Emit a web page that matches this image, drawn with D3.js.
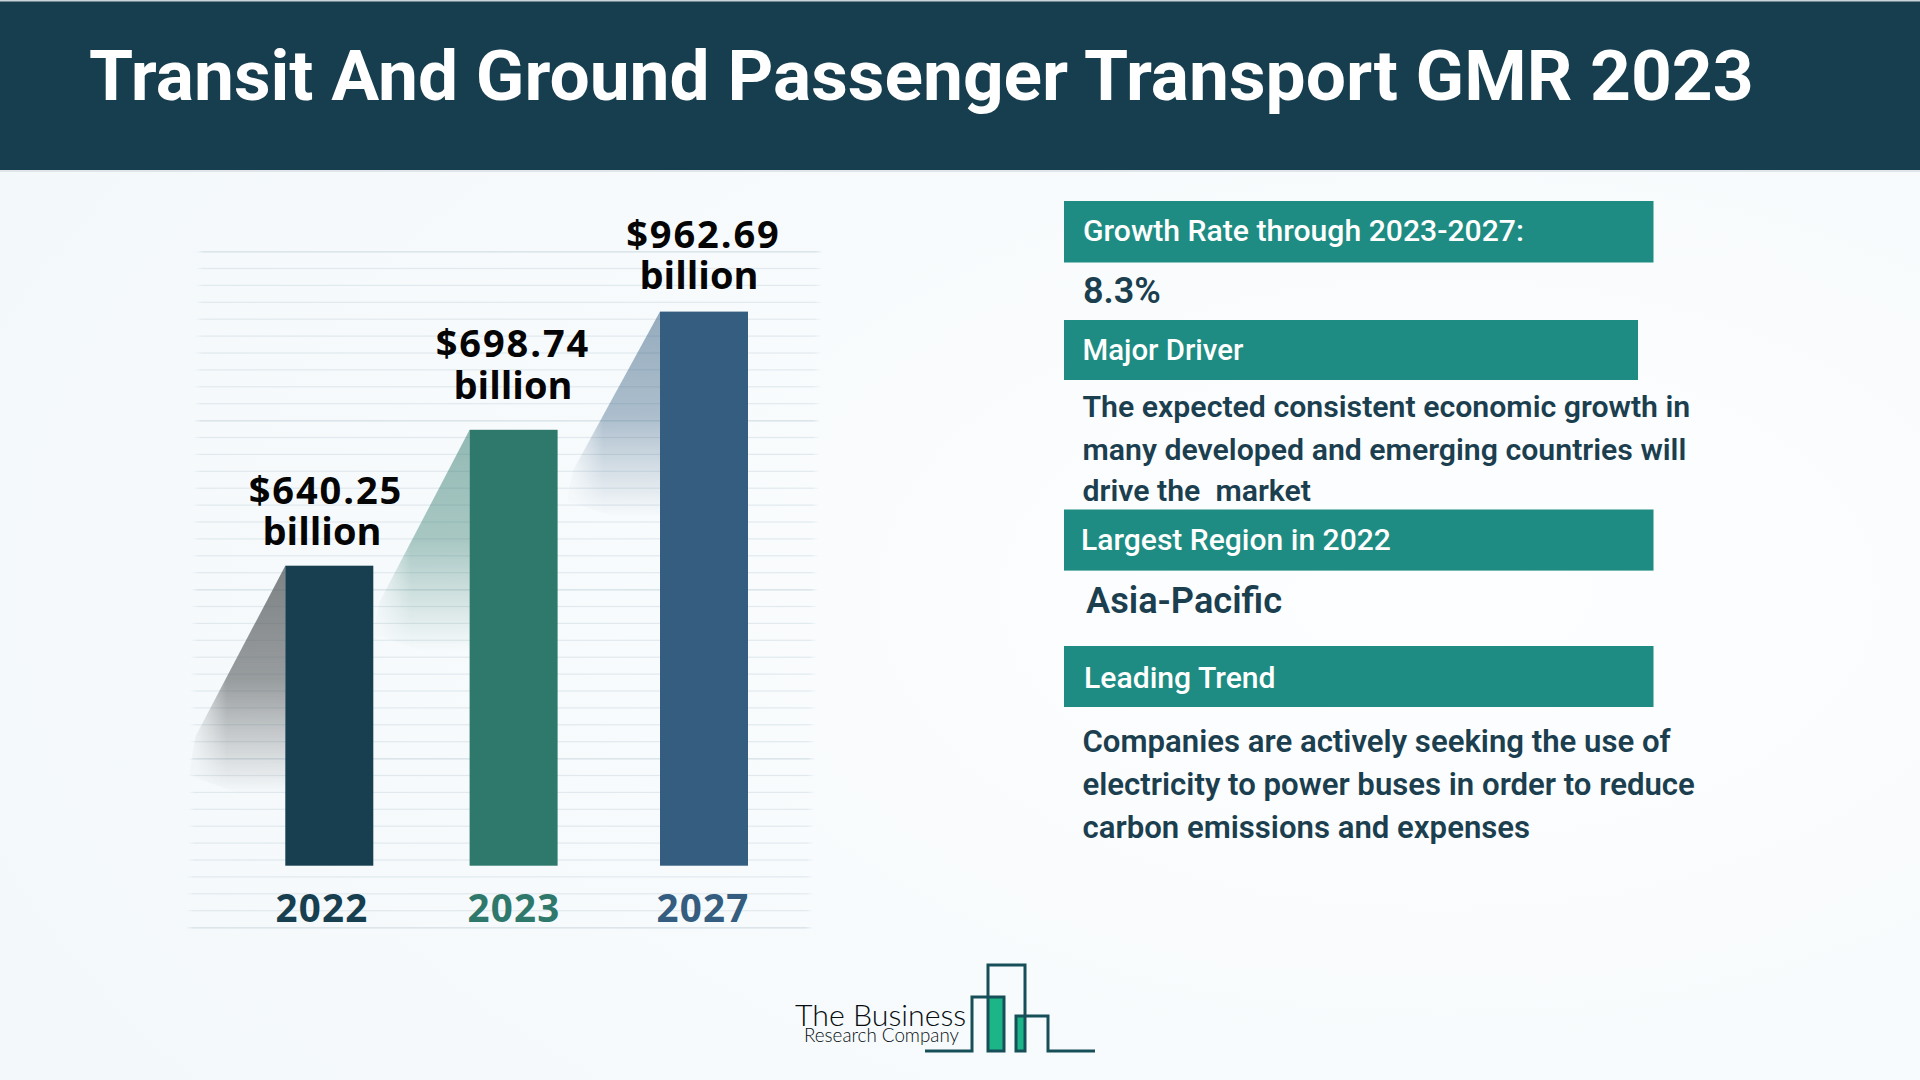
<!DOCTYPE html>
<html><head><meta charset="utf-8">
<script src="https://cdn.jsdelivr.net/npm/d3@7"></script>
<style>html,body{margin:0;padding:0;background:#f9fbfc;overflow:hidden}svg{display:block}</style>
</head><body><div id="c"></div>
<script>
const title = "Transit And Ground Passenger Transport GMR 2023";
const years = ["2022","2023","2027"];
const values = [640.25,698.74,962.69];
const valueLabels = ["$640.25","$698.74","$962.69"];
const unitLabel = "billion";
const barColors = ["#173f50","#2e786c","#345d80"];
const panelHeads = ["Growth Rate through 2023-2027:","Major Driver","Largest Region in 2022","Leading Trend"];
const panelBodies = [["8.3%"],["The expected consistent economic growth in","many developed and emerging countries will","drive the  market"],["Asia-Pacific"],["Companies are actively seeking the use of","electricity to power buses in order to reduce","carbon emissions and expenses"]];

const W=1920,H=1080;
const svg=d3.select("#c").append("svg").attr("width",W).attr("height",H).attr("viewBox",`0 0 ${W} ${H}`);
const defs=svg.append("defs");
const bg=defs.append("radialGradient").attr("id","bg").attr("cx","75%").attr("cy","55%").attr("r","85%");
bg.append("stop").attr("offset","0").attr("stop-color","#fdfeff");
bg.append("stop").attr("offset","1").attr("stop-color","#f3f8fa");
svg.append("rect").attr("width",W).attr("height",H).attr("fill","url(#bg)");

// header
svg.append("rect").attr("width",W).attr("height",170).attr("fill","#163e4f");
svg.append("rect").attr("y",170).attr("width",W).attr("height",2).attr("fill","#dfe5e8");
svg.append("rect").attr("width",W).attr("height",1.5).attr("fill","#c9d3d8");
svg.append("text").attr("x",89).attr("y",100).attr("fill","#fff")
 .style("font",'700 71.3px Roboto').text(title);

// striped backdrop
const fadeH=defs.append("linearGradient").attr("id","rowFade");
[[0,0],[.012,1],[.988,1],[1,0]].forEach(([o,a])=>fadeH.append("stop").attr("offset",o).attr("stop-color","#dbe5ea").attr("stop-opacity",a));
const rowCount=41;
const rowY=d3.scaleLinear().domain([0,rowCount-1]).range([251,927]);
const rowL=d3.scaleLinear().domain([0,rowCount-1]).range([196,186]);
const rowR=d3.scaleLinear().domain([0,rowCount-1]).range([823,813]);
svg.append("g").selectAll("rect").data(d3.range(rowCount)).join("rect")
 .attr("x",rowL).attr("width",i=>rowR(i)-rowL(i)).attr("y",rowY).attr("height",i=>i%10===0?1.6:1.2)
 .attr("fill","url(#rowFade)").attr("opacity",i=>i%10===0?1:.8);

// scales: the source bars are not drawn to a common linear scale, so the y scale is piecewise through the published values
const y=d3.scaleLinear().domain([0,...values]).range([865.7,565.7,429.8,311.6]);
const xBar=d3.scaleOrdinal().domain(years).range([285.3,469.6,660]);
const barW=88;
const labelX=d3.scaleOrdinal().domain(years).range([326,513,703.5]);
const unitX=d3.scaleOrdinal().domain(years).range([322,513,699]);
const yearX=d3.scaleOrdinal().domain(years).range([322,514,703]);
const labelY=d3.scaleOrdinal().domain(years).range([503.7,356.8,248.4]);
const unitY=d3.scaleOrdinal().domain(years).range([544.7,398.8,289.4]);
const rows=years.map((k,i)=>({k,v:values[i],c:barColors[i],l:valueLabels[i],i}));

// slanted soft shadows
const shadowRun=[90,90,87],shadowDrop=[171,172,159],shadowFade=[228,222,206],shadowOp=[.75,.5,.5],shadowTint=["#555a5c","#2e786c","#345d80"];
rows.forEach(d=>{
  const x0=xBar(d.k),y0=y(d.v),r=shadowRun[d.i],dr=shadowDrop[d.i],f=shadowFade[d.i];
  const g=defs.append("linearGradient").attr("id","sh"+d.i).attr("gradientUnits","userSpaceOnUse")
    .attr("x1",0).attr("x2",0).attr("y1",y0).attr("y2",y0+f);
  [[0,1],[.5,.78],[.75,.38],[1,0]].forEach(([o,a])=>g.append("stop").attr("offset",o).attr("stop-color",shadowTint[d.i]).attr("stop-opacity",shadowOp[d.i]*a));
  const mg=defs.append("linearGradient").attr("id","shm"+d.i).attr("gradientUnits","userSpaceOnUse")
    .attr("x1",x0-r).attr("x2",x0-r*.65).attr("y1",0).attr("y2",0);
  mg.append("stop").attr("offset",0).attr("stop-color","#fff").attr("stop-opacity",.2);
  mg.append("stop").attr("offset",1).attr("stop-color","#fff").attr("stop-opacity",1);
  defs.append("mask").attr("id","mk"+d.i).attr("maskUnits","userSpaceOnUse").attr("x",0).attr("y",0).attr("width",W).attr("height",H)
    .append("rect").attr("width",W).attr("height",H).attr("fill",`url(#shm${d.i})`);
  svg.append("path").attr("d",d3.line()([[x0,y0],[x0-r,y0+dr],[x0-r-6,y0+f*.92],[x0-r*.5,y0+f],[x0,y0+f]])+"Z")
    .attr("fill",`url(#sh${d.i})`).attr("mask",`url(#mk${d.i})`);
});

// bars
svg.append("g").selectAll("rect").data(rows).join("rect")
 .attr("x",d=>xBar(d.k)).attr("width",barW).attr("y",d=>y(d.v)).attr("height",d=>y(0)-y(d.v)).attr("fill",d=>d.c);

const labelFont='700 38px "Open Sans"';
const g=svg.append("g");
g.selectAll(".v").data(rows).join("text").attr("class","v").attr("text-anchor","middle")
 .attr("x",d=>labelX(d.k)).attr("y",d=>labelY(d.k)).attr("fill","#050505").style("font",labelFont).style("letter-spacing","1.9px").text(d=>d.l);
g.selectAll(".u").data(rows).join("text").attr("class","u").attr("text-anchor","middle")
 .attr("x",d=>unitX(d.k)).attr("y",d=>unitY(d.k)).attr("fill","#050505").style("font",labelFont).text(unitLabel);
g.selectAll(".yr").data(rows).join("text").attr("class","yr").attr("text-anchor","middle")
 .attr("x",d=>yearX(d.k)).attr("y",922).attr("fill",d=>d.c).style("font",'700 38.5px "Open Sans"').style("letter-spacing","1.2px").text(d=>d.k);

// right panels
const boxTop=[201,320,509.5,646],boxBottom=[262.5,380,570.6,707],boxRight=[1653.5,1638,1653.5,1653.5];
const headX=[1083,1082.5,1081,1084],headY=[241,360,550,687.5];
const headSize=[30.15,29.4,30.05,30.15];
const bodyX=[1083,1082.5,1086,1082.5];
const bodyY=[[303],[417,460,501],[613],[752,795,838]];
const bodyFont=['600 36px Roboto','600 30.25px Roboto','600 36.2px Roboto','600 31.15px Roboto'];
panelHeads.forEach((t,i)=>{
  svg.append("rect").attr("x",1064).attr("y",boxTop[i]).attr("width",boxRight[i]-1064).attr("height",boxBottom[i]-boxTop[i]).attr("fill","#1e8c82");
  svg.append("text").attr("x",headX[i]).attr("y",headY[i]).attr("fill","#fff").style("font",`500 ${headSize[i]}px Roboto`).text(t);
  panelBodies[i].forEach((line,j)=>svg.append("text").attr("x",bodyX[i]).attr("y",bodyY[i][j]).attr("fill","#1b3f4f")
    .style("font",bodyFont[i]).style("white-space","pre").attr("xml:space","preserve").text(line));
});

// logo
const logoGreen=[[988,997,16,54],[1016,1016,9,35]];
svg.append("g").selectAll("rect").data(logoGreen).join("rect").attr("x",d=>d[0]).attr("y",d=>d[1]).attr("width",d=>d[2]).attr("height",d=>d[3]).attr("fill","#1cb587");
const logoPath=[[925,1051],[972,1051],[972,997],[1004,997],[1004,1051],[988,1051],[988,965],[1025,965],[1025,1051],[1016,1051],[1016,1016],[1048,1016],[1048,1051],[1095,1051]];
svg.append("path").attr("d",d3.line()(logoPath)).attr("fill","none").attr("stroke","#174f58").attr("stroke-width",3);
svg.append("text").attr("x",795).attr("y",1026).attr("fill","#050d10").style("font",'300 30.3px Lato').text("The Business");
svg.append("text").attr("x",804).attr("y",1042).attr("fill","#050d10").style("font",'300 18.8px Lato').text("Research Company");
</script></body></html>
